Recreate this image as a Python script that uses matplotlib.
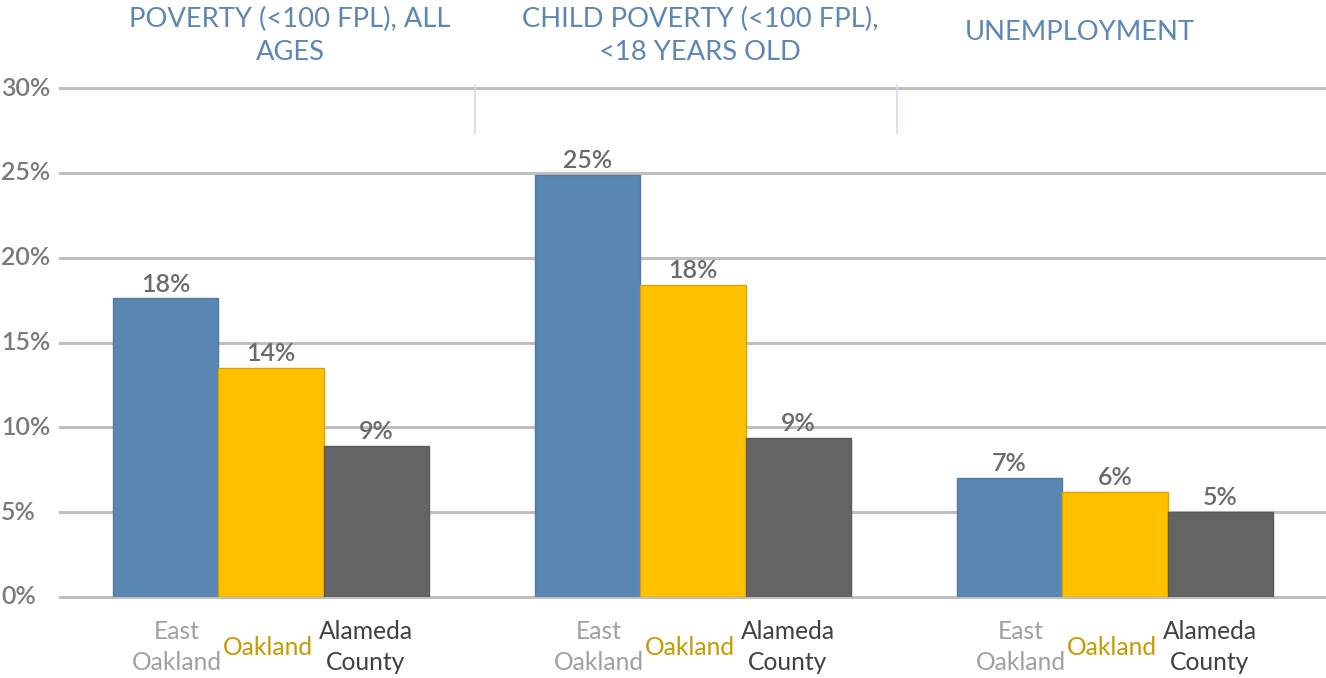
import matplotlib
matplotlib.use("Agg")
import matplotlib.pyplot as plt
import matplotlib.transforms as mtransforms
import numpy as np

plt.rcParams['font.family'] = ['Lato', 'DejaVu Sans']

# Data
groups = ["POVERTY (<100 FPL), ALL\nAGES",
          "CHILD POVERTY (<100 FPL),\n<18 YEARS OLD",
          "UNEMPLOYMENT"]
areas = ["East\nOakland", "Oakland", "Alameda\nCounty"]
east_oakland = [17.6, 24.9, 7.0]
oakland = [13.5, 18.4, 6.2]
alameda_county = [8.9, 9.4, 5.0]
yticks = [0, 5, 10, 15, 20, 25, 30]
ytick_labels = ["0%", "5%", "10%", "15%", "20%", "25%", "30%"]

series = [east_oakland, oakland, alameda_county]
bar_colors = ["#5A86B4", "#FFC000", "#646464"]
edge_colors = ["#55799F", "#D9A400", "#5A5A5A"]
label_colors = ["#A0A0A0", "#C49A00", "#404040"]

W, H = 1326, 678
fig = plt.figure(figsize=(W / 100, H / 100), dpi=100)
ax = fig.add_axes([60 / W, 1 - 597 / H, 1 - 60 / W, (597 - 88) / H])

x = np.arange(len(groups))
width = 0.25
offsets = [-width, 0, width]

# gridlines
for t in yticks:
    ax.axhline(t, color="#BFBFBF", lw=2.2, zorder=0, clip_on=False)

for vals, off, fc, ec in zip(series, offsets, bar_colors, edge_colors):
    bars = ax.bar(x + off, vals, width, color=fc, edgecolor=ec, linewidth=1.0, zorder=2)
    for b, v in zip(bars, vals):
        ax.annotate(f"{v:.0f}%", (b.get_x() + b.get_width() / 2, v),
                    xytext=(0, 2.0), textcoords="offset points",
                    ha="center", va="bottom", fontsize=18, color="#6A6A6A",
                    fontweight="semibold")

ax.set_xlim(-0.5, len(groups) - 0.5)
ax.set_ylim(0, 30)
ax.set_xticks([])
ax.set_yticks([])
for s in ax.spines.values():
    s.set_visible(False)

# y tick labels, left aligned at the figure edge
ytrans = mtransforms.blended_transform_factory(fig.transFigure, ax.transData)
for t, lab in zip(yticks, ytick_labels):
    fig.text(1 / W, t, lab, transform=ytrans, ha="left", va="center",
             fontsize=18, color="#7A7A7A", fontweight="semibold")

# category labels beneath each bar
label_shift = [-94 / 422 + width, -3 / 422, 95 / 422 - width]
for i in range(len(groups)):
    for j, (lab, col) in enumerate(zip(areas, label_colors)):
        xpos = x[i] + offsets[j] + label_shift[j]
        ax.text(xpos, -2.95, lab, ha="center", va="center", fontsize=17.7,
                color=col, linespacing=1.4, clip_on=False)

# group headers above the plot
header_x = [290, 700, 1080]
for hx, g in zip(header_x, groups):
    ypos = 1 - 35.5 / H if "\n" in g else 1 - 32 / H
    fig.text(hx / W, ypos, g, ha="center", va="center", fontsize=19.7,
             color="#5B86B5", linespacing=1.4)

# separators between headers
for sx in [475, 897]:
    fig.add_artist(plt.Line2D([sx / W, sx / W], [1 - 85 / H, 1 - 133 / H],
                              color="#D3DCE8", lw=1.2, transform=fig.transFigure))

fig.savefig("out.png", dpi=100, facecolor="white")
